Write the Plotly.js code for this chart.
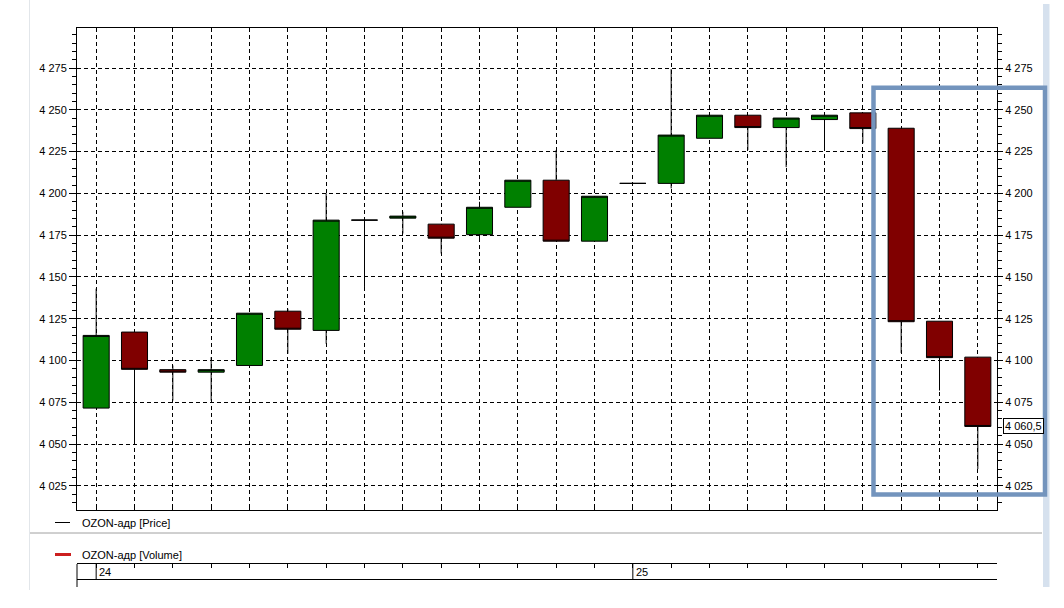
<!DOCTYPE html>
<html>
<head>
<meta charset="utf-8">
<script src="https://cdn.plot.ly/plotly-3.0.1.min.js"></script>
<style>
html,body{margin:0;padding:0;background:#fff;}
#chart{width:1064px;height:608px;}
</style>
</head>
<body>
<div id="chart"></div>
<script>
// ---- data (hourly candles, OZON-адр) ----
const candleIndex = [0,1,2,3,4,5,6,7,8,9,10,11,12,13,14,15,16,17,18,19,20,21,22,23];
const openPrice  = [4071.5, 4117.0, 4094.5, 4093.0, 4097.0, 4129.5, 4118.0, 4184.0, 4185.2, 4181.6, 4175.3, 4191.7, 4207.9, 4171.4, 4206.0, 4206.0, 4233.0, 4246.8, 4239.4, 4244.2, 4248.2, 4239.0, 4123.5, 4102.0];
const highPrice  = [4143.0, 4117.0, 4097.0, 4102.0, 4128.3, 4131.0, 4200.0, 4184.5, 4189.0, 4181.6, 4195.0, 4207.9, 4226.0, 4198.3, 4206.0, 4274.4, 4246.8, 4246.8, 4245.1, 4247.0, 4248.2, 4239.0, 4123.5, 4102.0];
const lowPrice   = [4071.5, 4050.4, 4076.0, 4076.0, 4097.0, 4104.0, 4110.0, 4144.0, 4176.0, 4164.0, 4172.0, 4191.7, 4171.4, 4171.4, 4206.0, 4203.0, 4233.0, 4226.0, 4215.7, 4226.0, 4230.0, 4104.5, 4082.0, 4035.0];
const closePrice = [4115.0, 4094.7, 4093.0, 4094.5, 4128.3, 4118.7, 4184.0, 4184.0, 4186.4, 4173.2, 4191.7, 4207.9, 4171.4, 4198.3, 4206.0, 4234.9, 4246.8, 4239.4, 4245.1, 4246.8, 4238.8, 4123.2, 4101.7, 4060.5];
const dayLabels   = ["24", "25"];
const dayStartIdx = [0, 14];
const seriesNames = ["OZON-адр [Price]", "OZON-адр [Volume]"];

// ---- layout helpers (pixel -> paper) ----
const W = 1064, H = 608;
const L = 77, R = 997, T = 28, B = 579;
const px = x => (x - L) / (R - L);
const py = y => (B - y) / (B - T);
const FONT = "Liberation Sans, Arial, sans-serif";

function fmtRu(v) {
  const s = v.toFixed(1).split(".");
  const intPart = s[0].replace(/\B(?=(\d{3})+(?!\d))/g, " ");
  return s[1] === "0" ? intPart : intPart + "," + s[1];
}

const lastClose = closePrice[closePrice.length - 1];
const yRange = [4010.5, 4299];

const traces = [
  {
    type: "candlestick",
    x: candleIndex,
    open: openPrice, high: highPrice, low: lowPrice, close: closePrice,
    increasing: {line: {color: "#000000", width: 1}, fillcolor: "#008000"},
    decreasing: {line: {color: "#000000", width: 1}, fillcolor: "#800000"},
    whiskerwidth: 0,
    hoverinfo: "skip",
    xaxis: "x", yaxis: "y"
  },
  { type: "scatter", x: [], y: [], xaxis: "x", yaxis: "y2", hoverinfo: "skip" },
  { type: "scatter", x: [], y: [], xaxis: "x2", yaxis: "y3", hoverinfo: "skip" }
];

const tickFont = {family: FONT, size: 11, color: "#000"};
const gridDash = "4px,3px";

const shapes = [
  // light left border line
  {type: "line", xref: "paper", yref: "paper", x0: px(29.5), x1: px(29.5), y0: py(0), y1: py(590), line: {color: "#e2e6ea", width: 1}, layer: "below"},
  // light blue strip at right
  {type: "rect", xref: "paper", yref: "paper", x0: px(1043), x1: px(1049.5), y0: py(4), y1: py(587), fillcolor: "#d6e1ee", line: {width: 0}, layer: "below"},
  // separator line between panes
  {type: "line", xref: "paper", yref: "paper", x0: px(30), x1: px(1042), y0: py(533), y1: py(533), line: {color: "#a0a0a0", width: 1}},
  // legend marker: price
  {type: "line", xref: "paper", yref: "paper", x0: px(55), x1: px(70), y0: py(522.5), y1: py(522.5), line: {color: "#000", width: 1}},
  // legend marker: volume
  {type: "line", xref: "paper", yref: "paper", x0: px(55), x1: px(71), y0: py(554.5), y1: py(554.5), line: {color: "#cc1f1f", width: 3}},
  // time axis left edge
  {type: "line", xref: "paper", yref: "paper", x0: 0, x1: 0, y0: py(564), y1: py(587), line: {color: "#000", width: 1}},
  // highlight rectangle
  {type: "rect", xref: "paper", yref: "paper", x0: px(873.5), x1: px(1045), y0: py(494.5), y1: py(87.7), line: {color: "#7394bd", width: 4.5}, fillcolor: "rgba(0,0,0,0)", layer: "above"}
];
dayStartIdx.forEach(d => {
  shapes.push({type: "line", xref: "x", yref: "paper", x0: d, x1: d, y0: py(564), y1: py(579), line: {color: "#000", width: 1}});
});

const annotations = [
  {xref: "paper", yref: "paper", x: px(80), y: py(522.5), xanchor: "left", yanchor: "middle", text: seriesNames[0], showarrow: false, font: tickFont},
  {xref: "paper", yref: "paper", x: px(80), y: py(554.5), xanchor: "left", yanchor: "middle", text: seriesNames[1], showarrow: false, font: tickFont},
  {xref: "paper", yref: "y", x: px(1003), y: lastClose, xanchor: "left", yanchor: "middle", text: fmtRu(lastClose), showarrow: false,
   font: tickFont, bordercolor: "#000", borderwidth: 1, borderpad: 1, bgcolor: "#fff"}
];
dayLabels.forEach((lab, i) => {
  annotations.push({xref: "x", yref: "paper", x: dayStartIdx[i], y: py(571.5), xanchor: "left", yanchor: "middle", xshift: 1,
    text: lab, showarrow: false, font: tickFont});
});

const layout = {
  width: W, height: H,
  margin: {l: L, r: W - R, t: T, b: H - B, pad: 0},
  paper_bgcolor: "#fff", plot_bgcolor: "#fff",
  showlegend: false, hovermode: false,
  separators: ", ",
  boxgap: 0.32, boxgroupgap: 0,
  xaxis: {
    domain: [0, 1], anchor: "y",
    range: [-0.5, 23.5], tick0: 0, dtick: 1,
    showgrid: true, gridcolor: "#000", gridwidth: 1, griddash: gridDash,
    showline: true, linecolor: "#000", linewidth: 1, mirror: true,
    ticks: "inside", ticklen: 5, tickcolor: "#000",
    showticklabels: false, zeroline: false,
    rangeslider: {visible: false}, fixedrange: true
  },
  yaxis: {
    domain: [py(510), 1], anchor: "x", side: "left",
    range: yRange, tick0: 4000, dtick: 25,
    showgrid: true, gridcolor: "#000", gridwidth: 1, griddash: gridDash,
    showline: true, linecolor: "#000", linewidth: 1, mirror: true,
    ticks: "outside", ticklen: 7, tickcolor: "#000",
    minor: {dtick: 5, tick0: 4000, ticks: "outside", ticklen: 4, tickcolor: "#000", showgrid: false},
    separatethousands: true, tickfont: tickFont, zeroline: false, fixedrange: true
  },
  yaxis2: {
    overlaying: "y", anchor: "x", side: "right",
    range: yRange, tick0: 4000, dtick: 25,
    showgrid: false, showline: false,
    ticks: "outside", ticklen: 5, tickcolor: "#000",
    minor: {dtick: 5, tick0: 4000, ticks: "outside", ticklen: 4, tickcolor: "#000", showgrid: false},
    separatethousands: true, tickfont: tickFont, zeroline: false, fixedrange: true
  },
  xaxis2: {
    domain: [0, 1], anchor: "y3", side: "top",
    range: [-0.5, 23.5], tick0: 0, dtick: 1,
    showgrid: false, showline: true, linecolor: "#000", linewidth: 1, mirror: true,
    ticks: "inside", ticklen: 4, tickcolor: "#000",
    showticklabels: false, zeroline: false, fixedrange: true
  },
  yaxis3: {
    domain: [0, py(564)], anchor: "x2", range: [0, 1],
    showgrid: false, showline: false, ticks: "", showticklabels: false, zeroline: false, fixedrange: true
  },
  shapes: shapes,
  annotations: annotations
};

Plotly.newPlot("chart", traces, layout, {displayModeBar: false, staticPlot: true});
</script>
</body>
</html>
